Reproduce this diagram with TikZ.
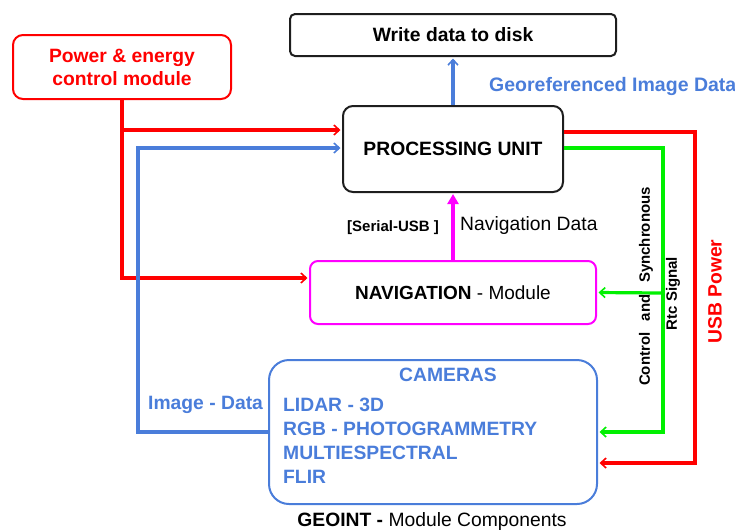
\documentclass[tikz,border=0pt]{standalone}
\usepackage{fontspec}
\setmainfont{Liberation Sans}
\usetikzlibrary{arrows.meta}

\definecolor{pwred}{RGB}{255,0,0}
\definecolor{dblue}{RGB}{74,125,218}
\definecolor{sgreen}{RGB}{0,240,0}
\definecolor{nmag}{RGB}{255,0,255}
\definecolor{bframe}{RGB}{30,30,30}

\tikzset{
  big/.style={font=\fontsize{19}{23}\selectfont},
  small/.style={font=\fontsize{15}{18}\selectfont\bfseries},
  box/.style={draw, line width=2pt, inner sep=0pt, big},
  wire/.style={line width=3.2pt},
  tipto/.style={-{Straight Barb[length=5.5pt,width=10pt,line width=1.6pt]}, shorten >=1.5pt},
}

\begin{document}
\begin{tikzpicture}[x=1pt,y=-1pt]
\useasboundingbox (0,0) rectangle (735,531);

% --- boxes ---
\node[box, draw=bframe, rounded corners=5pt, minimum width=326pt, minimum height=42pt, font=\fontsize{19.3}{23}\selectfont\bfseries]
  (write) at (453,35) {Write data to disk};
\node[box, draw=pwred, text=pwred, rounded corners=10pt, minimum width=218pt, minimum height=64pt, align=center,
  font=\fontsize{19.3}{23}\selectfont\bfseries]
  (power) at (122,67) {Power \& energy\\control module};
\node[box, draw=bframe, rounded corners=10pt, minimum width=220pt, minimum height=86pt,
  font=\fontsize{19.3}{23}\selectfont\bfseries]
  (proc) at (453,149) {PROCESSING UNIT};
\node[box, draw=nmag, rounded corners=8pt, minimum width=286pt, minimum height=63pt]
  (nav) at (453,292.5) {\textbf{NAVIGATION} - Module};
\node[box, draw=dblue, rounded corners=20pt, minimum width=328pt, minimum height=144pt]
  (cam) at (433,432) {};

% --- camera list ---
\node[text=dblue, font=\fontsize{19.3}{23}\selectfont\bfseries, inner sep=0pt] (camtitle) at (448,375) {CAMERAS};
\node[text=dblue, font=\fontsize{19.3}{24}\selectfont\bfseries, inner sep=0pt, align=left, anchor=north west]
  (camlist) at (283,397.5) {LIDAR - 3D\\RGB - PHOTOGRAMMETRY\\MULTIESPECTRAL\\FLIR};

% --- power feeds ---
\draw[wire, pwred, tipto] (power.south) |- (nav.west |- 0,278);
\draw[wire, pwred, tipto] (123,130) -- (proc.west |- 0,130);
\draw[wire, pwred, tipto] (proc.east |- 0,132) -| (695,463) -- (cam.east |- 0,463);

% --- image data ---
\draw[wire, dblue, tipto] (cam.west) -| (138,148) -- (proc.west |- 0,148);
\draw[wire, dblue, tipto] (proc.north) -- (write.south);

% --- navigation data ---
\draw[wire, nmag, -{Triangle[length=10pt,width=11pt]}, shorten >=1pt] (nav.north) -- (proc.south);

% --- control / sync ---
\coordinate (gtap) at (663,293);
\draw[wire, sgreen, tipto] (proc.east |- 0,148) -| (663,432) -- (cam.east);
\draw[wire, sgreen, tipto] (gtap) -- (nav.east);

% --- labels ---
\node[text=dblue, font=\fontsize{19.5}{23}\selectfont\bfseries, anchor=west, inner sep=0pt] (geo) at (489,86) {Georeferenced Image Data};
\node[small, inner sep=0pt] (serial) at (393,228) {[Serial-USB ]};
\node[font=\fontsize{19.3}{23}\selectfont, anchor=west, inner sep=0pt] (navdata) at (460,226) {Navigation Data};
\node[small, rotate=90, inner sep=0pt] (ctrl) at (646,286.5) {Control\hspace{11.5pt}and\hspace{11.5pt}Synchronous};
\node[small, rotate=90, inner sep=0pt] (rtc) at (673,293.5) {Rtc Signal};
\node[text=pwred, font=\fontsize{19.3}{23}\selectfont\bfseries, rotate=90, inner sep=0pt] (usb) at (715,291.5) {USB Power};
\node[text=dblue, font=\fontsize{19.3}{23}\selectfont\bfseries, anchor=west, inner sep=0pt] (imgdata) at (148,405) {Image - Data};
\node[font=\fontsize{19.3}{23}\selectfont, inner sep=0pt] (geoint) at (432,521) {\textbf{GEOINT -} Module Components};
\end{tikzpicture}
\end{document}
